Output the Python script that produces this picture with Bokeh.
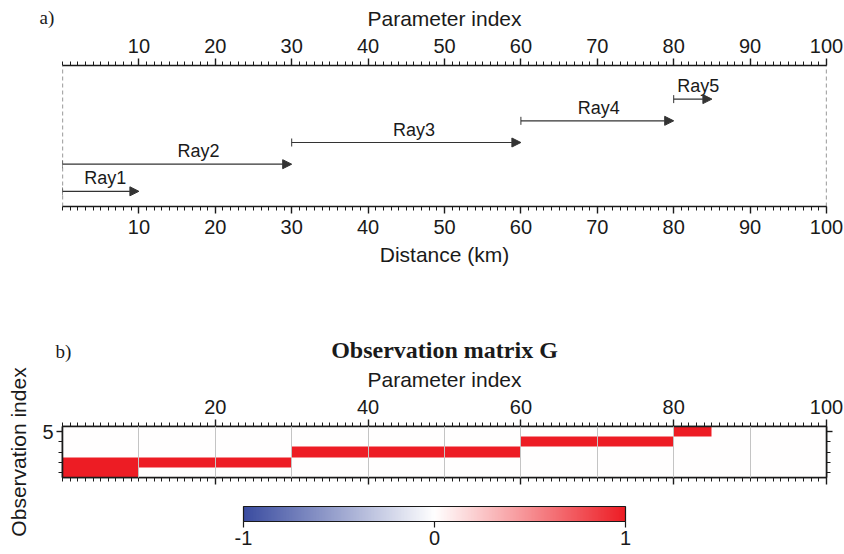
import numpy as np
from bokeh.plotting import figure
from bokeh.models import (LinearAxis, FixedTicker, Range1d, ColumnDataSource, Arrow,
                          NormalHead, TeeHead, Title, LinearColorMapper, ColorBar)
from bokeh.layouts import column
from bokeh.embed import file_html
from bokeh.resources import INLINE
from bokeh.core.properties import value

# ---------------- data ----------------
ray_names = ["Ray1", "Ray2", "Ray3", "Ray4", "Ray5"]
ray_start = [0, 0, 30, 60, 80]          # km / parameter index
ray_end = [10, 30, 60, 80, 85]
ray_level = [0.7, 1.95, 2.95, 3.95, 4.95]   # vertical level of each ray in panel a
ray_label_x = [5.6, 17.8, 46.0, 70.2, 83.2]
distance_ticks = [10, 20, 30, 40, 50, 60, 70, 80, 90, 100]
param_ticks_a = [10, 20, 30, 40, 50, 60, 70, 80, 90, 100]
param_ticks_b = [20, 40, 60, 80, 100]
minor_x_ticks = list(range(0, 101))
grid_ticks_b = [10, 20, 30, 40, 50, 60, 70, 80, 90]
obs_ticks = [5]
obs_minor_ticks = [1, 2, 3, 4, 5]
cbar_ticks = [-1, 0, 1]
cbar_labels = ["-1", "0", "1"]
n_param = 100
n_obs = 5

# observation matrix G (rows = rays, columns = parameters)
G = np.zeros((n_obs, n_param))
for i in range(n_obs):
    G[i, ray_start[i]:ray_end[i]] = 1.0

SANS = "Liberation Sans"
SERIF = "Liberation Serif"
INK = "#1a1a1a"


def style_axis(ax, tick_out=7, minor_out=4):
    ax.axis_line_color = INK
    ax.axis_line_width = 1.6
    ax.major_tick_line_color = INK
    ax.major_tick_line_width = 1.4
    ax.minor_tick_line_color = INK
    ax.minor_tick_line_width = 1
    ax.major_tick_in = 0
    ax.major_tick_out = tick_out
    ax.minor_tick_in = 0
    ax.minor_tick_out = minor_out
    ax.major_label_text_font = SANS
    ax.major_label_text_font_size = "20px"
    ax.major_label_text_color = INK
    ax.major_label_standoff = 6
    ax.axis_label_text_font = SANS
    ax.axis_label_text_font_size = "21px"
    ax.axis_label_text_font_style = "normal"
    ax.axis_label_text_color = INK
    ax.axis_label_standoff = 6


def blank_labels(ax, ticks):
    ax.major_label_overrides = {t: "" for t in ticks}


# ---------------- panel a ----------------
pa = figure(width=844, height=290, x_range=Range1d(0, 100), y_range=Range1d(0, 6.5),
            output_backend="svg", toolbar_location=None,
            x_axis_location=None, y_axis_location=None,
            min_border_left=62, min_border_right=18, min_border_top=65, min_border_bottom=84)
pa.outline_line_color = None
pa.xgrid.visible = False
pa.ygrid.visible = False

ax_top_a = LinearAxis(ticker=FixedTicker(ticks=param_ticks_a, minor_ticks=minor_x_ticks),
                      axis_label="Parameter index")
style_axis(ax_top_a)
pa.add_layout(ax_top_a, "above")
ax_bot_a = LinearAxis(ticker=FixedTicker(ticks=distance_ticks, minor_ticks=minor_x_ticks),
                      axis_label="Distance (km)")
style_axis(ax_bot_a)
pa.add_layout(ax_bot_a, "below")

# panel letter a) as a zero-height title next to the axis caption
title_a = Title(text="a)", align="left", offset=-23, vertical_align="bottom",
                text_font=SERIF, text_font_size="19px", text_font_style="normal",
                text_color=INK, standoff=-48)
pa.add_layout(title_a, "above")

# dashed model boundaries
bsrc = ColumnDataSource(dict(x=[0, 100], y0=[0, 0], y1=[6.5, 6.5]))
pa.add_layout(Arrow(start=None, end=None, x_start="x", y_start="y0", x_end="x", y_end="y1",
                    source=bsrc, line_color="#555555", line_width=1.2, line_dash="4 3"))

rsrc = ColumnDataSource(dict(x0=ray_start, x1=ray_end, y=ray_level,
                             name=ray_names, lx=ray_label_x))
pa.add_layout(Arrow(start=TeeHead(size=8, line_color="#333333", line_width=1),
                    end=NormalHead(size=9, fill_color="#333333", line_color="#333333"),
                    x_start="x0", y_start="y", x_end="x1", y_end="y",
                    source=rsrc, line_color="#333333", line_width=1.2))
pa.text(x="lx", y="y", text="name", source=rsrc, text_align="center", text_baseline="bottom",
        y_offset=-3, text_font=value(SANS), text_font_size="18px", text_color=INK)

# ---------------- panel b ----------------
pal = []
blue = np.array([58, 76, 160])
white = np.array([255, 255, 255])
red = np.array([237, 28, 36])
for t in np.linspace(0, 1, 256):
    if t < 0.5:
        c = blue + (white - blue) * (t / 0.5)
    else:
        c = white + (red - white) * ((t - 0.5) / 0.5)
    pal.append("#%02x%02x%02x" % tuple(int(round(v)) for v in c))
mapper = LinearColorMapper(palette=pal, low=-1, high=1)

pb = figure(width=844, height=264, x_range=Range1d(0, 100), y_range=Range1d(0.5, 5.5),
            output_backend="svg", toolbar_location=None,
            x_axis_location=None, y_axis_location=None,
            min_border_left=62, min_border_right=18, min_border_top=136, min_border_bottom=77)
pb.outline_line_color = INK
pb.outline_line_width = 1.5
pb.ygrid.visible = False
pb.image(image=[G], x=0, y=0.5, dw=n_param, dh=n_obs, color_mapper=mapper)
pb.xgrid.ticker = FixedTicker(ticks=grid_ticks_b)
pb.xgrid.grid_line_color = "#c4c4c4"
pb.xgrid.grid_line_width = 1
pb.xgrid.level = "overlay"

ax_top_b = LinearAxis(ticker=FixedTicker(ticks=param_ticks_b, minor_ticks=minor_x_ticks),
                      axis_label="Parameter index")
style_axis(ax_top_b)
pb.add_layout(ax_top_b, "above")
ax_bot_b = LinearAxis(ticker=FixedTicker(ticks=param_ticks_b, minor_ticks=minor_x_ticks))
style_axis(ax_bot_b)
blank_labels(ax_bot_b, param_ticks_b)
pb.add_layout(ax_bot_b, "below")
# invisible spacer between the matrix and the colour bar
spacer = LinearAxis(ticker=FixedTicker(ticks=[50], minor_ticks=[]), axis_line_color=None,
                    major_tick_line_color=None, minor_tick_line_color=None,
                    major_tick_in=0, major_tick_out=22, minor_tick_in=0, minor_tick_out=0,
                    major_label_standoff=0, major_label_overrides={50: ""})
pb.add_layout(spacer, "below")
ax_left_b = LinearAxis(ticker=FixedTicker(ticks=obs_ticks, minor_ticks=obs_minor_ticks),
                       axis_label="Observation index")
style_axis(ax_left_b, tick_out=6, minor_out=4)
ax_left_b.major_label_standoff = 3
ax_left_b.axis_label_standoff = 9
pb.add_layout(ax_left_b, "left")
ax_right_b = LinearAxis(ticker=FixedTicker(ticks=obs_ticks, minor_ticks=obs_minor_ticks))
style_axis(ax_right_b, tick_out=6, minor_out=4)
blank_labels(ax_right_b, obs_ticks)
pb.add_layout(ax_right_b, "right")

cb = ColorBar(color_mapper=mapper, orientation="horizontal", width=382, height=15,
              ticker=FixedTicker(ticks=cbar_ticks), location=(181, 0), padding=0, margin=0,
              major_label_overrides=dict(zip(cbar_ticks, cbar_labels)),
              bar_line_color=INK, bar_line_width=1.2, major_tick_in=0, major_tick_out=6,
              major_tick_line_color=INK, major_tick_line_width=1.2,
              major_label_text_font=SANS, major_label_text_font_size="20px",
              major_label_text_color=INK, label_standoff=3,
              background_fill_color=None)
pb.add_layout(cb, "below")

# main title first (next to the axis), then the panel letter outside it
title_main = Title(text="Observation matrix G", align="center", vertical_align="bottom",
                   text_font=SERIF, text_font_size="24px", text_font_style="bold",
                   text_color=INK, standoff=3)
pb.add_layout(title_main, "above")
title_b = Title(text="b)", align="left", offset=-7, vertical_align="bottom",
                text_font=SERIF, text_font_size="19px", text_font_style="normal",
                text_color=INK, standoff=-56)
pb.add_layout(title_b, "above")

layout = column(pa, pb, spacing=0)
open("out.html", "w").write(file_html(layout, INLINE))
